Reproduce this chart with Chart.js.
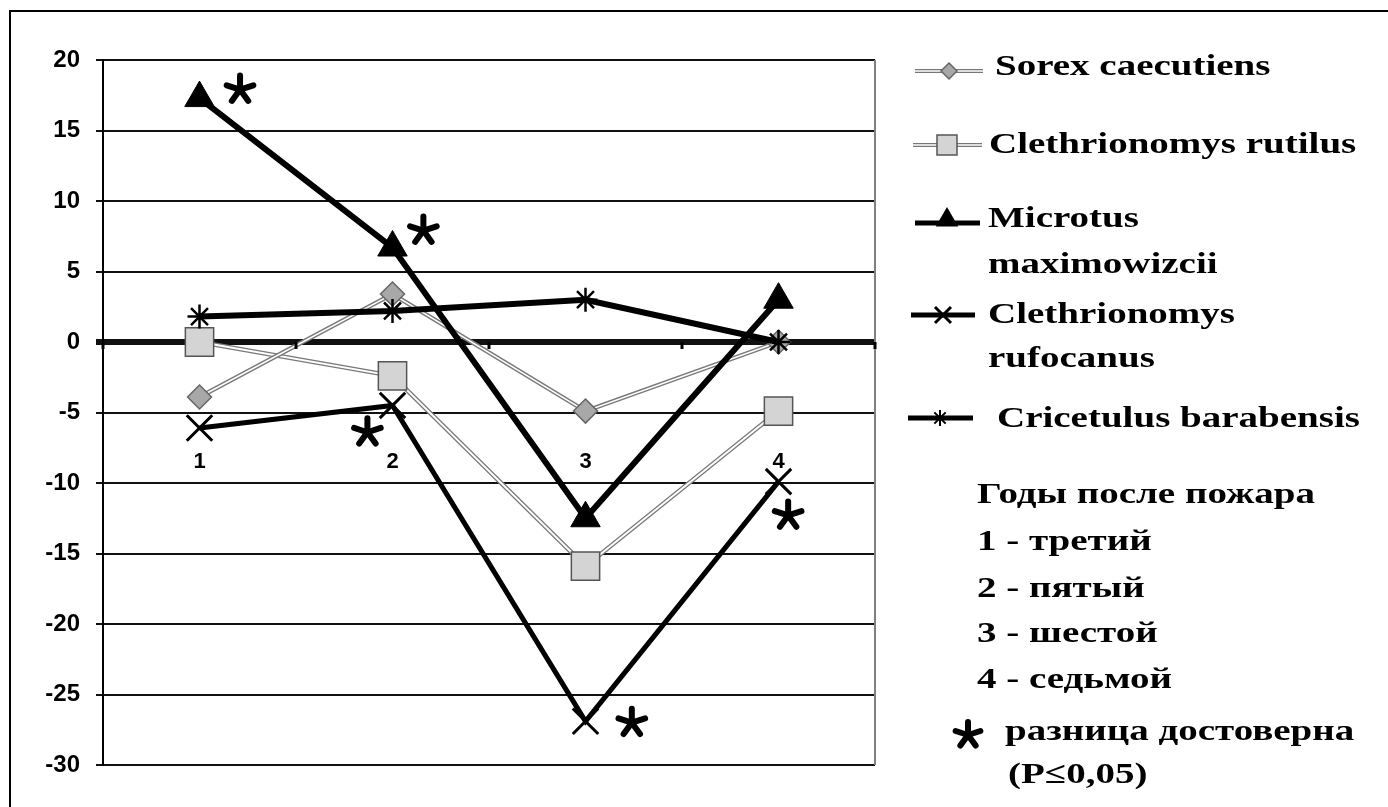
<!DOCTYPE html>
<html>
<head>
<meta charset="utf-8">
<script src="https://cdn.jsdelivr.net/npm/chart.js@4"></script>
<style>
  html, body { margin: 0; padding: 0; background: #fff; }
  canvas { display: block; }
</style>
</head>
<body>
<canvas id="chart" width="1388" height="807"></canvas>
<script>
// Categories (years after fire) and series values
const categories = ["1", "2", "3", "4"];
const sorex = [-3.9, 3.4, -4.9, 0];
const rutilus = [0, -2.4, -15.9, -4.9];
const microtus = [17.3, 6.7, -12.5, 3.0];
const rufocanus = [-6.1, -4.5, -26.9, -9.9];
const cricetulus = [1.8, 2.2, 3.0, 0];

// y axis
const yMin = -30, yMax = 20, yStep = 5;

// significance marks (category index, value)
const sigX = [0.21, 1.16, 0.87, 2.24, 3.05];
const sigY = [17.9, 7.9, -6.4, -27.0, -12.3];

const seriesNames = ["Sorex caecutiens", "Clethrionomys rutilus", "Microtus maximowizcii",
                     "Clethrionomys rufocanus", "Cricetulus barabensis"];
const notes = ["Годы после пожара", "1 - третий", "2 - пятый", "3 - шестой", "4 - седьмой"];

const SERIF = "bold 30px 'Liberation Serif', 'Times New Roman', serif";
const SX = 1.3;
const CAT_LABEL_Y = -8.5;

function stretchText(ctx, text, x, y) {
    ctx.save();
    ctx.translate(x, y);
    ctx.scale(SX, 1);
    ctx.fillText(text, 0, 0);
    ctx.restore();
}

function drawAsterisk(ctx, x, y, len, w) {
    ctx.save();
    ctx.strokeStyle = "#000";
    ctx.lineWidth = w;
    ctx.lineCap = "round";
    for (let k = 0; k < 5; k++) {
        const a = -Math.PI / 2 + k * 2 * Math.PI / 5;
        ctx.beginPath();
        ctx.moveTo(x, y);
        ctx.lineTo(x + Math.cos(a) * len, y + Math.sin(a) * len);
        ctx.stroke();
    }
    ctx.restore();
}

function marker(ctx, type, x, y, r) {
    ctx.save();
    ctx.beginPath();
    if (type === "diamond") {
        ctx.moveTo(x, y - r); ctx.lineTo(x + r, y); ctx.lineTo(x, y + r); ctx.lineTo(x - r, y); ctx.closePath();
        ctx.fillStyle = "#a8a8a8"; ctx.fill();
        ctx.strokeStyle = "#666"; ctx.lineWidth = 1.5; ctx.stroke();
    } else if (type === "square") {
        ctx.rect(x - r, y - r, 2 * r, 2 * r);
        ctx.fillStyle = "#d4d4d4"; ctx.fill();
        ctx.strokeStyle = "#555"; ctx.lineWidth = 1.5; ctx.stroke();
    } else if (type === "triangle") {
        ctx.moveTo(x, y - r); ctx.lineTo(x + r * 0.866, y + r * 0.5); ctx.lineTo(x - r * 0.866, y + r * 0.5); ctx.closePath();
        ctx.fillStyle = "#000"; ctx.fill();
    } else if (type === "x") {
        ctx.moveTo(x - r, y - r); ctx.lineTo(x + r, y + r);
        ctx.moveTo(x + r, y - r); ctx.lineTo(x - r, y + r);
        ctx.strokeStyle = "#000"; ctx.lineWidth = 3; ctx.stroke();
    } else if (type === "star") {
        for (let k = 0; k < 4; k++) {
            const a = k * Math.PI / 4;
            ctx.moveTo(x - Math.cos(a) * r, y - Math.sin(a) * r);
            ctx.lineTo(x + Math.cos(a) * r, y + Math.sin(a) * r);
        }
        ctx.strokeStyle = "#000"; ctx.lineWidth = 2; ctx.stroke();
    }
    ctx.restore();
}

function legendLine(ctx, x1, x2, y, style) {
    ctx.save();
    ctx.lineCap = "butt";
    if (style === "grey") {
        ctx.strokeStyle = "#777"; ctx.lineWidth = 4;
        ctx.beginPath(); ctx.moveTo(x1, y); ctx.lineTo(x2, y); ctx.stroke();
        ctx.strokeStyle = "#fff"; ctx.lineWidth = 1.5;
        ctx.beginPath(); ctx.moveTo(x1, y); ctx.lineTo(x2, y); ctx.stroke();
    } else {
        ctx.strokeStyle = "#000"; ctx.lineWidth = 5;
        ctx.beginPath(); ctx.moveTo(x1, y); ctx.lineTo(x2, y); ctx.stroke();
    }
    ctx.restore();
}

const decorPlugin = {
    id: "decor",
    afterDatasetsDraw(chart) {
        const ctx = chart.ctx;
        const xs = chart.scales.x, ys = chart.scales.y;
        const area = chart.chartArea;
        const y0 = ys.getPixelForValue(0);

        // right border of plot
        ctx.save();
        ctx.strokeStyle = "#808080"; ctx.lineWidth = 2;
        ctx.beginPath(); ctx.moveTo(area.right, area.top); ctx.lineTo(area.right, area.bottom); ctx.stroke();

        // category boundary ticks on the zero line
        ctx.fillStyle = "#000";
        for (let i = 0; i <= categories.length; i++) {
            const px = xs.getPixelForValue(i - 0.5);
            ctx.fillRect(px - 1.5, y0, 3, 7);
        }

        // category labels
        ctx.font = "bold 22px 'Liberation Sans', Arial, sans-serif";
        ctx.textAlign = "center"; ctx.textBaseline = "middle";
        categories.forEach((c, i) => {
            ctx.fillText(c, xs.getPixelForValue(i), ys.getPixelForValue(CAT_LABEL_Y));
        });
        ctx.restore();

        // significance asterisks
        sigX.forEach((v, i) => {
            drawAsterisk(ctx, xs.getPixelForValue(v), ys.getPixelForValue(sigY[i]), 14, 6);
        });

        // outer frame
        ctx.save();
        ctx.strokeStyle = "#000"; ctx.lineWidth = 2;
        ctx.beginPath(); ctx.moveTo(10, 807); ctx.lineTo(10, 11); ctx.lineTo(1388, 11); ctx.stroke();
        ctx.restore();

        // legend
        ctx.save();
        ctx.fillStyle = "#000";
        ctx.font = SERIF;
        ctx.textAlign = "left"; ctx.textBaseline = "alphabetic";

        legendLine(ctx, 915, 983, 71, "grey");
        marker(ctx, "diamond", 949, 71, 8);
        stretchText(ctx, seriesNames[0], 995, 75);

        legendLine(ctx, 913, 982, 145, "grey");
        marker(ctx, "square", 947, 145, 10);
        stretchText(ctx, seriesNames[1], 989, 153);

        legendLine(ctx, 915, 980, 223, "black");
        marker(ctx, "triangle", 947, 220, 13);
        stretchText(ctx, "Microtus", 988, 227);
        stretchText(ctx, "maximowizcii", 988, 273);

        legendLine(ctx, 911, 975, 315, "black");
        marker(ctx, "x", 943, 315, 8);
        stretchText(ctx, "Clethrionomys", 988, 323);
        stretchText(ctx, "rufocanus", 988, 367);

        legendLine(ctx, 908, 973, 418, "black");
        marker(ctx, "star", 940, 418, 8);
        stretchText(ctx, seriesNames[4], 997, 427);

        const noteBase = [503, 550, 597, 642, 688];
        notes.forEach((t, i) => stretchText(ctx, t, 977, noteBase[i]));

        drawAsterisk(ctx, 968, 735, 13, 6);
        stretchText(ctx, "разница достоверна", 1005, 740);
        stretchText(ctx, "(P≤0,05)", 1008, 783);
        ctx.restore();
    }
};

const greyUnder = (data) => ({
    data, borderColor: "#7a7a7a", borderWidth: 4.5, pointRadius: 0, fill: false, tension: 0
});

new Chart(document.getElementById("chart"), {
    type: "line",
    data: {
        labels: categories,
        datasets: [
            { label: seriesNames[2], data: microtus, borderColor: "#000", borderWidth: 6,
              pointStyle: "triangle", pointRadius: 17, pointBackgroundColor: "#000", pointBorderColor: "#000", pointBorderWidth: 1 },
            { label: seriesNames[3], data: rufocanus, borderColor: "#000", borderWidth: 5,
              pointStyle: "crossRot", pointRadius: 18, pointBorderColor: "#000", pointBorderWidth: 3 },
            { label: seriesNames[4], data: cricetulus, borderColor: "#000", borderWidth: 6,
              pointStyle: "star", pointRadius: 12, pointBorderColor: "#000", pointBorderWidth: 2.5 },
            { label: seriesNames[0], data: sorex, borderColor: "#fff", borderWidth: 1.5,
              pointStyle: "rectRot", pointRadius: 12, pointBackgroundColor: "#a8a8a8", pointBorderColor: "#666", pointBorderWidth: 1.5 },
            greyUnder(sorex),
            { label: seriesNames[1], data: rutilus, borderColor: "#fff", borderWidth: 2,
              pointStyle: "rect", pointRadius: 20, pointBackgroundColor: "#d4d4d4", pointBorderColor: "#555", pointBorderWidth: 1.5 },
            greyUnder(rutilus)
        ]
    },
    options: {
        responsive: false,
        animation: false,
        layout: { padding: { left: 10, top: 60, right: 513, bottom: 42 } },
        plugins: { legend: { display: false }, tooltip: { enabled: false } },
        elements: { line: { tension: 0 } },
        scales: {
            x: { display: false, offset: true },
            y: {
                min: yMin, max: yMax,
                afterFit(scale) { scale.width = 93; },
                ticks: {
                    stepSize: yStep, padding: 16, color: "#000",
                    font: { family: "'Liberation Sans', Arial, sans-serif", size: 24, weight: "bold" }
                },
                grid: {
                    color: "#111",
                    lineWidth: (c) => (c.tick && c.tick.value === 0 ? 6 : 2),
                    tickLength: 7
                },
                border: { display: true, color: "#000", width: 2 }
            }
        }
    },
    plugins: [decorPlugin]
});
</script>
</body>
</html>
